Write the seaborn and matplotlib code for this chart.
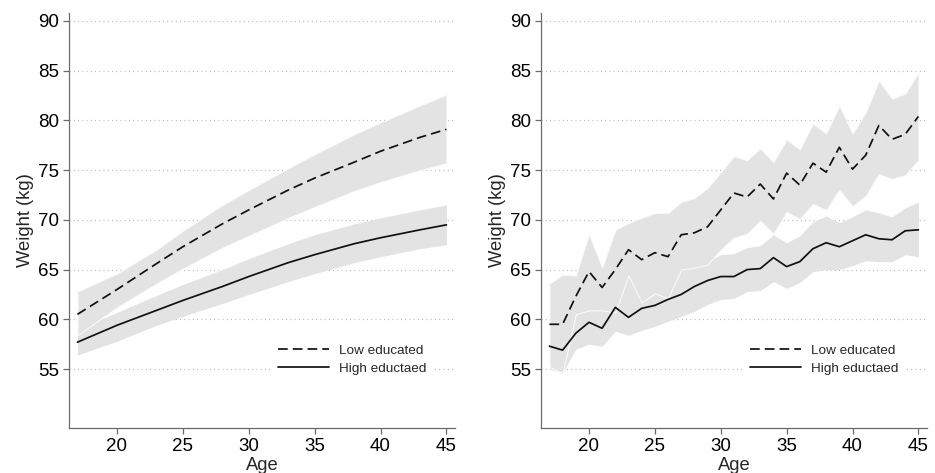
import numpy as np
import pandas as pd
import matplotlib
matplotlib.use("Agg")
import matplotlib.pyplot as plt
import seaborn as sns

# ---------------- data ----------------
LOW = "Low educated"
HIGH = "High eductaed"

# Left panel: smooth model predictions (read at selected ages)
ages_left = [17, 20, 23, 25, 28, 30, 33, 35, 38, 40, 43, 45]
low_mean_left = [60.5, 63.0, 65.6, 67.3, 69.6, 71.0, 73.0, 74.2, 75.8, 76.9, 78.3, 79.1]
low_upper_left = [62.8, 64.6, 67.0, 68.9, 71.5, 73.0, 75.2, 76.6, 78.6, 79.8, 81.5, 82.6]
low_lower_left = [58.4, 61.2, 63.6, 65.1, 67.2, 68.4, 70.2, 71.3, 72.9, 73.8, 75.0, 75.7]
high_mean_left = [57.7, 59.4, 60.9, 61.9, 63.3, 64.3, 65.7, 66.5, 67.6, 68.2, 69.0, 69.5]
high_upper_left = [59.0, 60.7, 62.4, 63.5, 65.0, 66.1, 67.6, 68.5, 69.6, 70.2, 71.0, 71.5]
high_lower_left = [56.4, 57.8, 59.4, 60.3, 61.6, 62.5, 63.8, 64.6, 65.7, 66.3, 67.1, 67.5]

# Right panel: observed means by single year of age
ages_right = list(range(17, 46))
low_mean_right = [59.5, 59.5, 62.3, 64.8, 63.2, 65.0, 67.0, 66.0, 66.7, 66.3,
                  68.5, 68.7, 69.3, 71.0, 72.7, 72.3, 73.6, 72.1, 74.7, 73.5,
                  75.7, 74.8, 77.3, 75.1, 76.5, 79.5, 78.1, 78.6, 80.4]
low_upper_right = [63.6, 64.5, 64.4, 68.6, 65.2, 69.0, 69.7, 70.2, 70.7, 70.7,
                   71.8, 72.2, 73.2, 74.8, 76.4, 76.0, 77.2, 75.8, 78.1, 77.1,
                   79.7, 78.7, 81.5, 78.7, 80.8, 84.0, 82.2, 82.7, 84.8]
low_lower_right = [55.2, 54.6, 60.5, 60.9, 60.9, 60.7, 64.4, 61.7, 62.6, 62.1,
                   65.0, 65.2, 65.5, 67.0, 68.2, 68.6, 69.9, 68.6, 70.8, 70.1,
                   71.6, 71.0, 73.0, 71.4, 72.4, 74.6, 74.1, 74.5, 76.0]
high_mean_right = [57.3, 56.9, 58.6, 59.7, 59.1, 61.2, 60.2, 61.1, 61.4, 62.0,
                   62.5, 63.3, 63.9, 64.3, 64.3, 65.0, 65.1, 66.2, 65.3, 65.8,
                   67.1, 67.7, 67.3, 67.9, 68.5, 68.1, 68.0, 68.9, 69.0]
high_upper_right = [59.5, 59.0, 61.0, 61.8, 61.5, 63.2, 64.6, 63.3, 63.5, 64.0,
                    65.3, 65.5, 65.8, 66.5, 66.6, 67.2, 67.4, 68.5, 67.7, 68.4,
                    69.8, 70.4, 69.7, 70.3, 71.0, 70.7, 70.3, 71.2, 71.8]
high_lower_right = [55.0, 54.6, 57.0, 57.5, 57.3, 58.8, 58.4, 58.9, 59.3, 59.8,
                    60.3, 60.8, 61.5, 62.0, 62.1, 62.8, 62.9, 63.8, 63.1, 63.7,
                    64.8, 65.0, 65.0, 65.4, 65.9, 65.8, 65.8, 66.5, 66.3]

x_ticks = [20, 25, 30, 35, 40, 45]
y_ticks = [55, 60, 65, 70, 75, 80, 85, 90]

# ---------------- style ----------------
sns.set_style("white")
plt.rcParams["font.family"] = ["Liberation Sans", "DejaVu Sans"]

BAND = "#e3e3e3"
SPINE = "#6a6a6a"
GRID = "#b8b8b8"
LW = 1.25

fig = plt.figure(figsize=(9.35, 4.73), dpi=100)
ax_l = fig.add_axes([0.0738, 0.0951, 0.4128, 0.8774])
ax_r = fig.add_axes([0.5786, 0.0951, 0.4128, 0.8774])


def panel(ax, ages, lm, lu, ll, hm, hu, hl):
    # bands: high first, low on top with a light edge
    ax.fill_between(ages, hl, hu, color=BAND, lw=0, zorder=1)
    ax.fill_between(ages, ll, lu, facecolor=BAND, edgecolor="#fafafa",
                    lw=0.8, zorder=2)
    df = pd.DataFrame({
        "Age": list(ages) * 2,
        "Weight": list(lm) + list(hm),
        "group": [LOW] * len(ages) + [HIGH] * len(ages),
    })
    sns.lineplot(data=df, x="Age", y="Weight", style="group",
                 style_order=[LOW, HIGH],
                 dashes={LOW: (5.6, 2.9), HIGH: ""},
                 color="#111111", lw=LW, ax=ax, zorder=3, legend=True)
    ax.set_xlim(16.36, 45.65)
    ax.set_ylim(49.07, 90.8)
    ax.set_xticks(x_ticks)
    ax.set_yticks(y_ticks)
    ax.set_axisbelow(True)
    for y in y_ticks:
        ax.axhline(y, color=GRID, lw=0.9, ls=(0, (0.8, 2.6)), zorder=0.5)
    for s in ["top", "right"]:
        ax.spines[s].set_visible(False)
    for s in ["left", "bottom"]:
        ax.spines[s].set_color(SPINE)
        ax.spines[s].set_linewidth(0.9)
    ax.tick_params(axis="both", which="major", direction="out", length=4.5,
                   width=0.9, color=SPINE, labelsize=13.5, pad=2.5,
                   labelcolor="black", bottom=True, left=True)
    ax.set_xlabel("Age", fontsize=13.2, labelpad=1.5)
    ax.set_ylabel("Weight (kg)", fontsize=13.2, labelpad=3)
    handles, labels = ax.get_legend_handles_labels()
    keep = [(h, l) for h, l in zip(handles, labels) if l in (LOW, HIGH)]
    leg = ax.legend([k[0] for k in keep], [k[1] for k in keep],
                    loc="center left", bbox_to_anchor=(0.527, 0.165),
                    frameon=True, fontsize=9.7, handlelength=3.8,
                    handletextpad=0.75, labelspacing=0.45, borderpad=0.4,
                    borderaxespad=0)
    leg.get_frame().set_facecolor("white")
    leg.get_frame().set_edgecolor("none")
    leg.get_frame().set_alpha(1)
    for line in leg.get_lines():
        line.set_linewidth(LW)


panel(ax_l, ages_left, low_mean_left, low_upper_left, low_lower_left,
      high_mean_left, high_upper_left, high_lower_left)
panel(ax_r, ages_right, low_mean_right, low_upper_right, low_lower_right,
      high_mean_right, high_upper_right, high_lower_right)

fig.savefig("out.png", dpi=100, facecolor="white")
